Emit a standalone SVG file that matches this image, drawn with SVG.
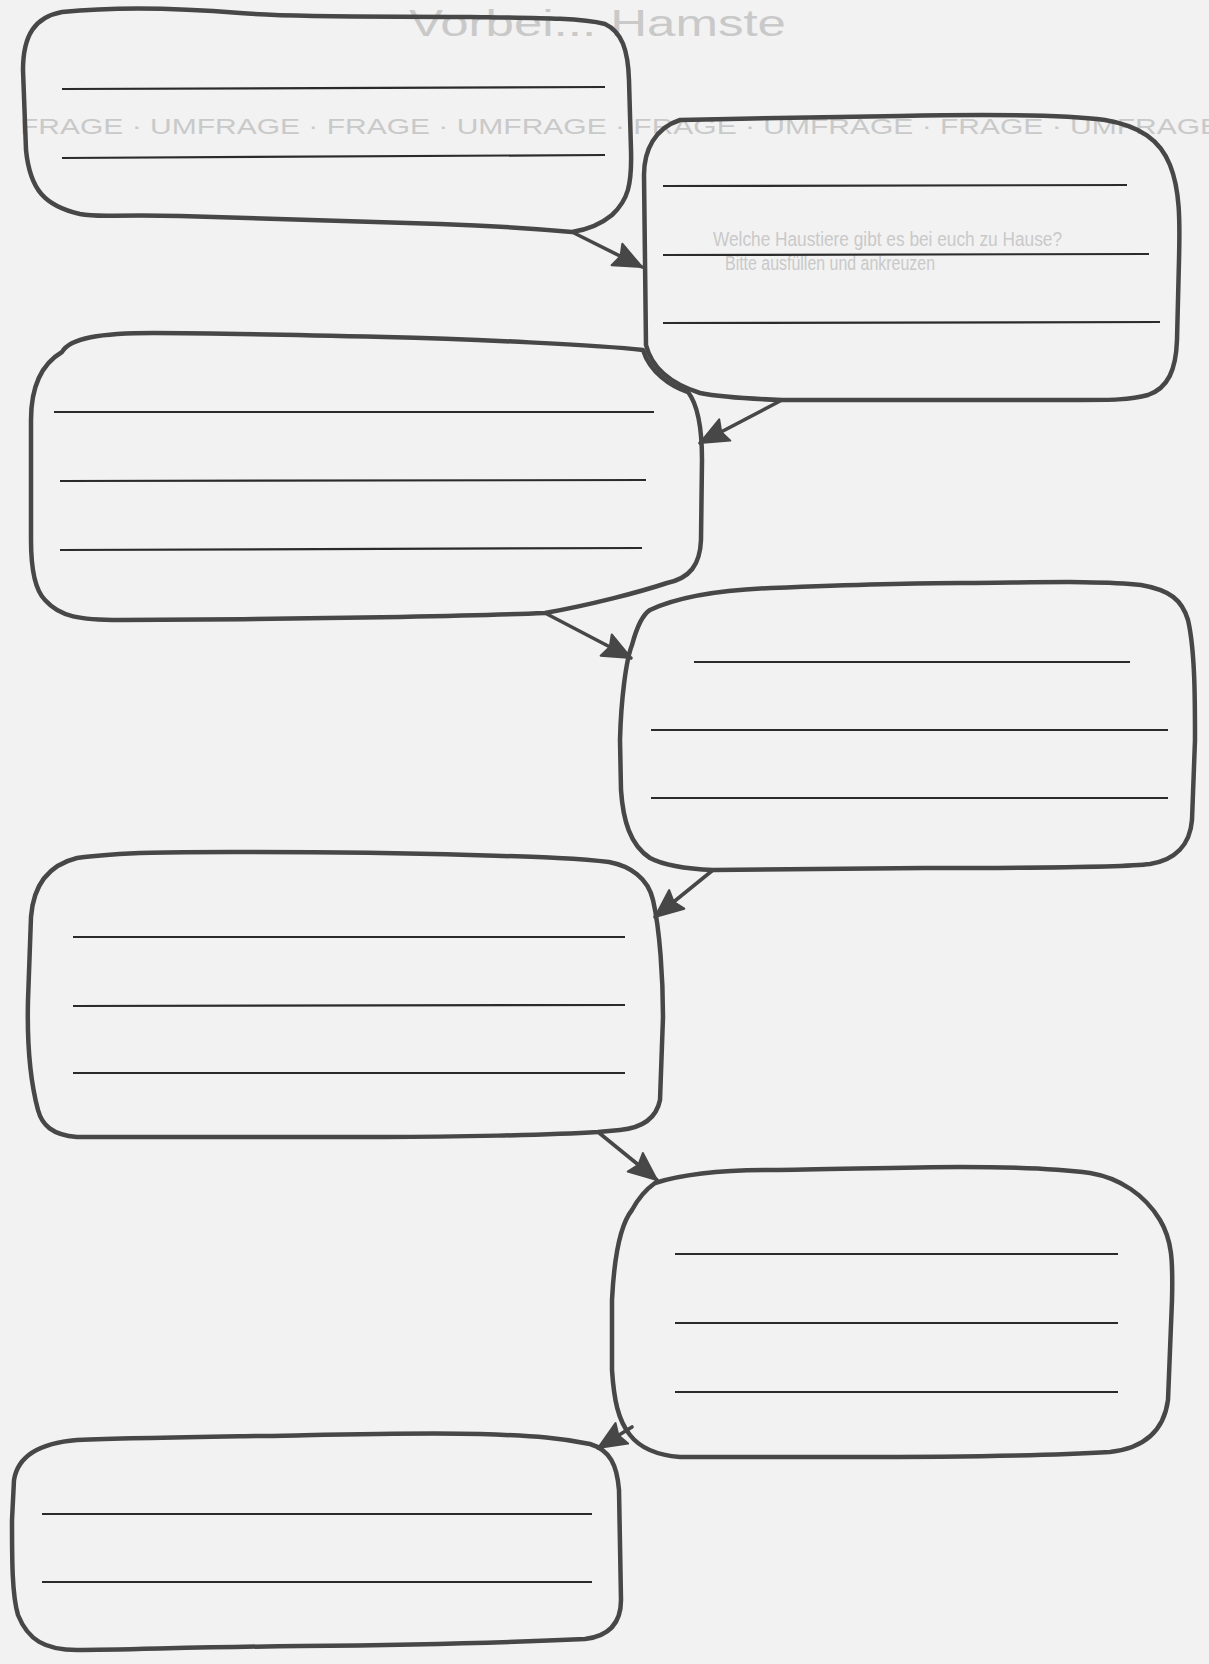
<svg xmlns="http://www.w3.org/2000/svg" width="1209" height="1664" viewBox="0 0 1209 1664">
<defs>
<style>
.bg{fill:#f2f2f2}
.faint{fill:#c9c9c9;font-family:"Liberation Sans",Arial,sans-serif}
.box{fill:none;stroke:#474747;stroke-width:4.5;stroke-linejoin:round;stroke-linecap:round}
.ln{stroke:#2b2b2b;stroke-width:2.2;stroke-linecap:butt}
.conn{fill:none;stroke:#474747;stroke-width:3.6;stroke-linecap:round;marker-end:url(#ah)}
</style>
<marker id="ah" markerUnits="userSpaceOnUse" markerWidth="32" markerHeight="28" viewBox="0 0 32 28" refX="30" refY="14" orient="auto">
<path d="M2,2 L30,14 L2,26 L6,14 Z" fill="#474747" stroke="#474747" stroke-width="2" stroke-linejoin="round"/>
</marker>
</defs>
<rect class="bg" x="0" y="0" width="1209" height="1664"/>
<g id="background-text">
<text class="faint" x="409" y="36" font-size="36" textLength="377" lengthAdjust="spacingAndGlyphs">Vorbei... Hamste</text>
<text class="faint" x="20" y="134" font-size="22" textLength="1200" lengthAdjust="spacingAndGlyphs">FRAGE · UMFRAGE · FRAGE · UMFRAGE · FRAGE · UMFRAGE · FRAGE · UMFRAGE</text>
<text class="faint" x="713" y="246" font-size="20" textLength="349" lengthAdjust="spacingAndGlyphs">Welche Haustiere gibt es bei euch zu Hause?</text>
<text class="faint" x="725" y="270" font-size="20" textLength="210" lengthAdjust="spacingAndGlyphs">Bitte ausfüllen und ankreuzen</text>
</g>
<g id="connectors">
<path class="conn" d="M572,232 L642,267"/>
<path class="conn" d="M782,400 L700,443"/>
<path class="conn" d="M545,613 L631,658"/>
<path class="conn" d="M713,870 L655,917"/>
<path class="conn" d="M598,1132 L657,1180"/>
<path class="conn" d="M632,1427 L598,1448"/>
</g>
<g id="node1">
<path class="box" d="M62,12 C120,6 180,8 240,13 S400,16 470,17 S580,18 605,24 C622,32 628,50 629,80 L631,150 C632,185 628,200 612,215 C600,225 585,230 572,232 C540,229 500,226 440,224 S250,218 180,216 S100,218 80,214 C45,206 30,190 26,150 L23,70 C23,35 35,17 62,12 Z"/>
<line class="ln" x1="62" y1="89" x2="605" y2="87"/>
<line class="ln" x1="62" y1="158" x2="605" y2="155"/>
</g>
<g id="node2">
<path class="box" d="M680,120 C760,118 850,117 900,116 S1050,113 1105,120 C1140,126 1160,140 1170,165 C1180,190 1180,220 1179,260 L1177,340 C1176,370 1168,388 1148,395 C1130,400 1110,400 1080,400 L782,400 C755,399 720,397 700,393 C675,385 652,370 646,345 L644,175 C644,150 655,128 680,120 Z"/>
<line class="ln" x1="663" y1="186" x2="1127" y2="185"/>
<line class="ln" x1="663" y1="255" x2="1149" y2="254"/>
<line class="ln" x1="663" y1="323" x2="1160" y2="322"/>
</g>
<g id="node3">
<path class="box" d="M62,352 C70,338 100,333 154,333 S300,335 385,337 S600,345 643,350 C650,372 670,386 688,392 C698,405 702,430 702,460 L701,540 C700,565 690,578 667,583 C640,592 590,605 545,613 C500,615 450,616 400,617 S200,620 120,620 C80,620 60,617 45,600 C35,590 31,570 31,540 L31,420 C31,390 40,365 62,352 Z"/>
<line class="ln" x1="54" y1="412" x2="654" y2="412"/>
<line class="ln" x1="60" y1="481" x2="646" y2="480"/>
<line class="ln" x1="60" y1="550" x2="642" y2="548"/>
</g>
<g id="node4">
<path class="box" d="M650,610 C680,596 720,590 771,588 S900,583 960,583 S1100,580 1141,585 C1170,590 1182,600 1188,620 C1195,650 1195,700 1195,740 L1192,820 C1190,845 1175,860 1150,864 C1120,868 1000,868 925,868 L713,870 C690,869 665,866 650,858 C630,845 623,820 621,790 L620,740 C621,700 626,660 632,645 C636,630 642,615 650,610 Z"/>
<line class="ln" x1="694" y1="662" x2="1130" y2="662"/>
<line class="ln" x1="651" y1="730" x2="1168" y2="730"/>
<line class="ln" x1="651" y1="798" x2="1168" y2="798"/>
</g>
<g id="node5">
<path class="box" d="M77,858 C120,852 180,852 231,852 S400,853 470,855 S580,858 609,862 C630,866 648,878 653,900 C660,930 663,980 663,1017 L660,1100 C656,1120 640,1128 620,1130 L598,1132 C550,1135 450,1137 385,1137 S150,1137 77,1137 C52,1135 42,1125 38,1110 C30,1080 27,1040 28,1000 L31,917 C33,890 45,866 77,858 Z"/>
<line class="ln" x1="73" y1="937" x2="625" y2="937"/>
<line class="ln" x1="73" y1="1006" x2="625" y2="1005"/>
<line class="ln" x1="73" y1="1073" x2="625" y2="1073"/>
</g>
<g id="node6">
<path class="box" d="M655,1183 C680,1175 720,1170 771,1170 S900,1167 960,1167 S1060,1169 1090,1173 C1120,1178 1145,1195 1160,1220 C1172,1240 1173,1260 1172,1300 L1168,1400 C1164,1430 1145,1448 1110,1452 C1060,1455 950,1457 848,1457 L680,1457 C655,1455 640,1448 630,1435 C618,1420 614,1400 612,1370 L612,1300 C614,1260 620,1225 632,1210 C640,1195 648,1188 655,1183 Z"/>
<line class="ln" x1="675" y1="1254" x2="1118" y2="1254"/>
<line class="ln" x1="675" y1="1323" x2="1118" y2="1323"/>
<line class="ln" x1="675" y1="1392" x2="1118" y2="1392"/>
</g>
<g id="node7">
<path class="box" d="M77,1440 C130,1438 200,1437 260,1436 S420,1432 480,1434 S560,1438 590,1444 C610,1450 617,1465 619,1490 L621,1600 C621,1622 610,1636 585,1639 C500,1643 400,1645 300,1646 S120,1650 77,1650 C45,1650 28,1640 18,1615 C12,1595 12,1560 12,1520 L14,1480 C18,1455 40,1443 77,1440 Z"/>
<line class="ln" x1="42" y1="1514" x2="592" y2="1514"/>
<line class="ln" x1="42" y1="1582" x2="592" y2="1582"/>
</g>
</svg>
